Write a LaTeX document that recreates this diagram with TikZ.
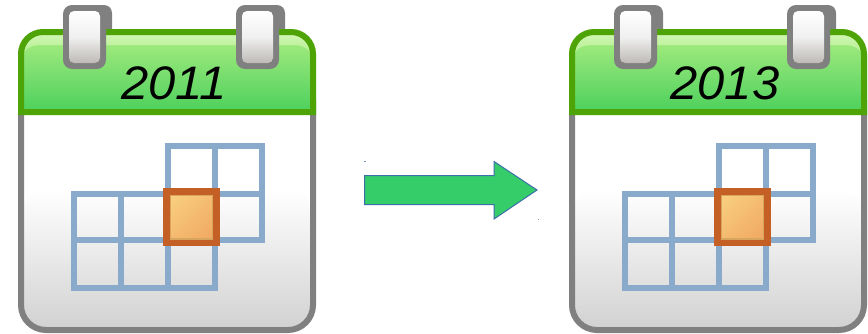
\documentclass[tikz,border=0pt]{standalone}
\usepackage{fontspec}
\setmainfont{Liberation Sans}
\definecolor{calgray}{RGB}{128,128,128}
\definecolor{calgreen}{RGB}{78,163,6}
\definecolor{gridblue}{RGB}{138,170,203}
\definecolor{cellrust}{RGB}{196,96,38}
\definecolor{arrowgreen}{RGB}{52,205,105}
\definecolor{arrowblue}{RGB}{60,110,170}
\tikzset{
  gridline/.style={draw=gridblue,line width=6pt,line cap=butt,line join=miter},
  ringouter/.style={fill=calgray,rounded corners=9pt},
  yearlabel/.style={font=\fontsize{47}{47}\selectfont\itshape,text=black,inner sep=0pt,anchor=base,xscale=1.04},
}
\newcommand{\drawcal}[3]{%
\begin{scope}[shift={(#1,0)}]
  % body
  \shade[top color=white,bottom color=black!18,rounded corners=25pt]
     (21,190) -- (21,330) -- (313,330) -- (313,190) -- cycle;
  \draw[draw=calgray,line width=6pt,rounded corners=25pt]
     (21,100) -- (21,330) -- (313,330) -- (313,100);
  % ring backs
  \foreach \rx in {63,236}{
    \fill[calgray,rounded corners=8pt] (\rx+6,5) rectangle (\rx+49,45);
  }
  % header
  \shade[top color={rgb,255:red,172;green,238;blue,130},bottom color={rgb,255:red,76;green,208;blue,92}]
     (21,112) -- (21,54) arc[start angle=180,end angle=270,radius=22] -- (291,32) arc[start angle=270,end angle=360,radius=22] -- (313,112) -- cycle;
  \shade[top color={rgb,255:red,206;green,246;blue,178},bottom color={rgb,255:red,184;green,240;blue,146}]
     (24.5,52) arc[start angle=180,end angle=270,radius=17.5] -- (292,34.5) arc[start angle=270,end angle=360,radius=17.5]
     .. controls (305,45) and (298,45) .. (290,45) -- (44,45) .. controls (36,45) and (29,45) .. cycle;
  \draw[draw=calgreen,line width=6pt,line join=miter]
     (21,112) -- (21,54) arc[start angle=180,end angle=270,radius=22] -- (291,32) arc[start angle=270,end angle=360,radius=22] -- (313,112) -- cycle;
  % rings
  \foreach \rx in {63,236}{
    \fill[ringouter] (\rx,5) rectangle (\rx+43,69);
    \shade[rounded corners=5pt,top color=white,bottom color={rgb,255:red,190;green,186;blue,182},middle color={rgb,255:red,240;green,240;blue,240}] (\rx+6,11) rectangle (\rx+37,63);
  }
  % year
  \node[yearlabel] (year#3) at (174,99) {#2};
  % grid
  \draw[gridline] (168,146) rectangle (215,194);
  \draw[gridline] (215,146) rectangle (262,194);
  \draw[gridline] (74,194) rectangle (121,240);
  \draw[gridline] (121,194) rectangle (168,240);
  \draw[gridline] (215,194) rectangle (262,240);
  \draw[gridline] (74,240) rectangle (121,288);
  \draw[gridline] (121,240) rectangle (168,288);
  \draw[gridline] (168,240) rectangle (215,288);
  % selected cell
  \shade[top color={rgb,255:red,248;green,205;blue,125},bottom color={rgb,255:red,241;green,170;blue,100},shading angle=45] (166,191) rectangle (217,243);
  \draw[draw={rgb,255:red,216;green,165;blue,95},line width=1.2pt] (170.5,195.5) rectangle (213,239);
  \draw[draw=cellrust,line width=6.5pt,line join=miter] (166.3,191.3) rectangle (216.7,243.2);
\end{scope}}
\begin{document}
\begin{tikzpicture}[x=1pt,y=-1pt]
  \useasboundingbox (0,0) rectangle (868,333);
  \fill[white] (0,0) rectangle (868,333);
  \drawcal{0}{2011}{a}
  \drawcal{551}{2013}{b}
  % arrow
  \draw[fill=arrowgreen,draw=arrowblue,line width=1pt,line join=miter]
    (364.5,175.5) -- (494,175.5) -- (494,161.5) -- (537,190) -- (494,219) -- (494,204.5) -- (364.5,204.5) -- cycle;
  \fill[arrowblue!70] (364,161) rectangle (365.5,161.8);
  \fill[arrowblue!70] (537.5,218.8) rectangle (539,219.6);
\end{tikzpicture}
\end{document}
